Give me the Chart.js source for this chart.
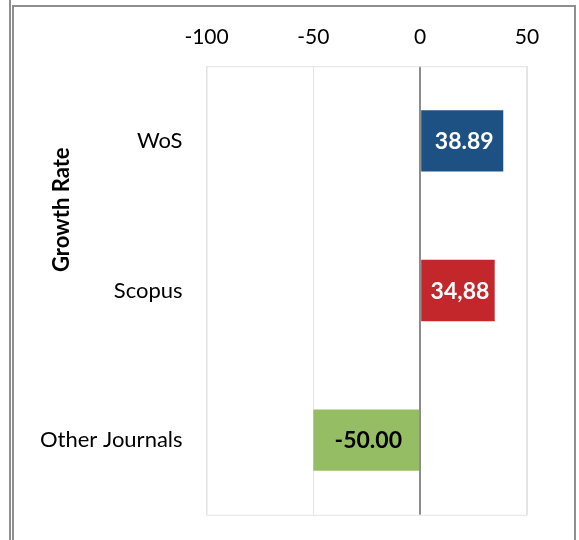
<html>
  <head>
    <style>
      body { margin: 0; background: #fff; }
      #wrap { position: relative; width: 579px; height: 540px; overflow: hidden; }
      .edge { position: absolute; left: 9px; top: 0; width: 2px; height: 540px; background: #8f8f8f; }
      .frame { position: absolute; left: 12px; top: 5px; width: 560px; height: 600px;
               border: 2px solid #8f8f8f; border-bottom: none; }
      canvas { position: absolute; left: 0; top: 0; }
    </style>
  </head>
  <body>
    <div id="wrap">
      <div class="edge"></div>
      <div class="frame"></div>
      <canvas id="growthChart" width="579" height="540"></canvas>
    </div>

    <script src="https://cdn.jsdelivr.net/npm/chart.js@4.4.1/dist/chart.umd.min.js"></script>
    <script>
const categories = ["WoS", "Scopus", "Other Journals"];
const growthRates = [38.89, 34.88, -50.00];
const valueLabels = ["38.89", "34,88", "-50.00"];
const barColors = ["#1d5184", "#c3262b", "#95bd64"];
const labelColors = ["#ffffff", "#ffffff", "#000000"];
const axisTitle = "Growth Rate";

// draws the light frame round the plot
const plotFrame = {
  id: 'plotFrame',
  beforeDatasetsDraw(chart) {
    const {ctx, chartArea: a} = chart;
    ctx.save();
    ctx.strokeStyle = '#e4e4e4';
    ctx.lineWidth = 1;
    ctx.strokeRect(a.left + 0.5, a.top + 0.5, a.right - a.left - 1, a.bottom - a.top);
    ctx.restore();
  }
};

// value text inside each bar
const barValues = {
  id: 'barValues',
  afterDatasetsDraw(chart) {
    const {ctx} = chart;
    const meta = chart.getDatasetMeta(0);
    ctx.save();
    ctx.font = 'bold 23px Lato';
    ctx.textAlign = 'center';
    ctx.textBaseline = 'middle';
    meta.data.forEach((bar, i) => {
      ctx.fillStyle = labelColors[i];
      ctx.fillText(valueLabels[i], (bar.x + bar.base) / 2 + 2, bar.y + 1);
    });
    ctx.restore();
  }
};

// rotated axis title, sits higher than the plot middle like the original
const sideTitle = {
  id: 'sideTitle',
  afterDraw(chart) {
    const {ctx, chartArea: a} = chart;
    ctx.save();
    ctx.translate(62, a.top + (a.bottom - a.top) * 0.32);
    ctx.rotate(-Math.PI / 2);
    ctx.font = 'bold 22px Lato';
    ctx.fillStyle = '#000';
    ctx.textAlign = 'center';
    ctx.textBaseline = 'middle';
    ctx.fillText(axisTitle, 0, 0);
    ctx.restore();
  }
};

const ctx = document.getElementById('growthChart').getContext('2d');
new Chart(ctx, {
  type: 'bar',
  data: {
    labels: categories,
    datasets: [{
      data: growthRates,
      backgroundColor: barColors,
      barPercentage: 1,
      categoryPercentage: 0.41,
    }]
  },
  plugins: [plotFrame, barValues, sideTitle],
  options: {
    indexAxis: 'y',
    responsive: false,
    animation: false,
    layout: {padding: {left: 28, right: 52, top: 9, bottom: 1}},
    scales: {
      x: {
        position: 'top',
        min: -100,
        max: 50,
        ticks: {stepSize: 50, padding: 16, color: '#000', font: {family: 'Lato', size: 21}},
        grid: {
          drawTicks: false,
          color: c => c.tick && c.tick.value === 0 ? '#8c8c8c' : '#e4e4e4',
          lineWidth: c => c.tick && c.tick.value === 0 ? 2 : 1,
        },
        border: {display: false},
      },
      y: {
        ticks: {padding: 12, color: '#000', font: {family: 'Lato', size: 22}},
        grid: {drawOnChartArea: false, drawTicks: true, tickLength: 12, color: 'rgba(0,0,0,0)'},
        border: {display: false},
      }
    },
    plugins: {
      legend: {display: false},
      tooltip: {enabled: false},
    }
  }
});
    </script>
  </body>
</html>
